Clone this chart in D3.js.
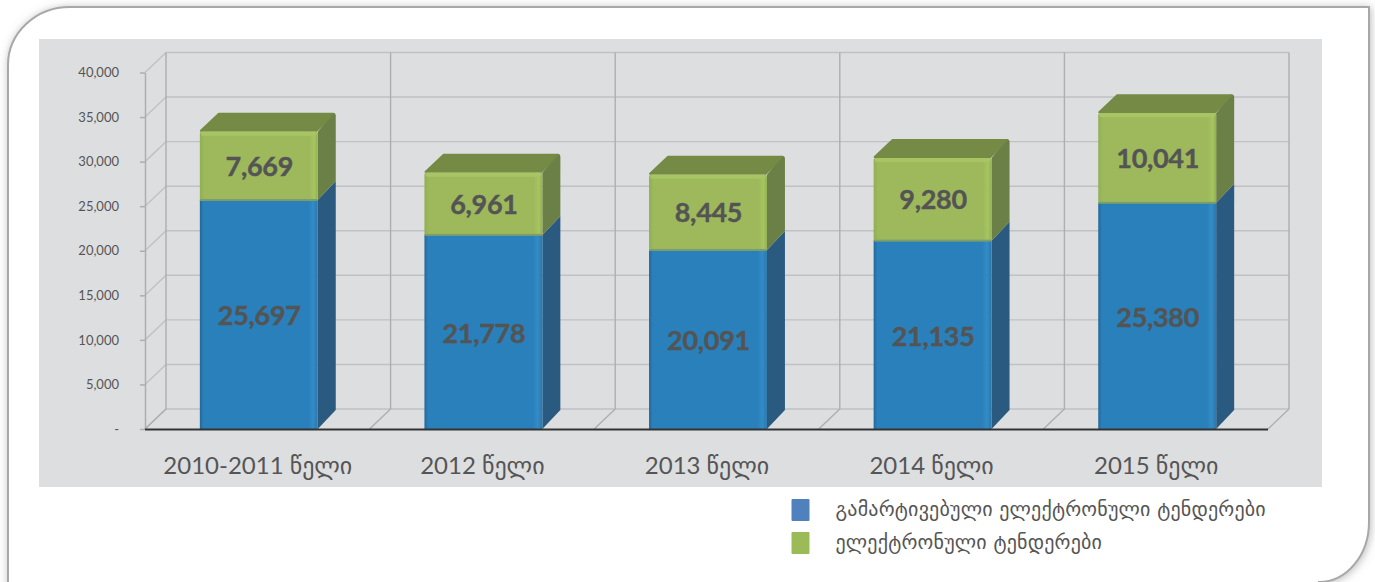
<!DOCTYPE html>
<html>
<head>
<meta charset="utf-8">
<script src="https://cdn.jsdelivr.net/npm/d3@7"></script>
<style>
  html, body { margin: 0; padding: 0; background: #fff; overflow: hidden; }
</style>
</head>
<body>
<div id="chart"></div>
<script>
var categories = ["2010-2011 წელი", "2012 წელი", "2013 წელი", "2014 წელი", "2015 წელი"];
var simplified = [25697, 21778, 20091, 21135, 25380];
var electronic = [7669, 6961, 8445, 9280, 10041];
var valueTicks = [0, 5000, 10000, 15000, 20000, 25000, 30000, 35000, 40000];
var legendLabels = ["გამარტივებული ელექტრონული ტენდერები", "ელექტრონული ტენდერები"];

var w = 1375;
var h = 582;
var wallX = 21, wallY = -20; // offset from front plane to back wall
var barX = 18, barY = -19;   // depth of the boxes
var barShift = 1.5;          // boxes sit a bit right of band centre
var latin = "Lato, 'Open Sans', sans-serif";
var georgian = "'DejaVu Sans', sans-serif";

var svg = d3.select("#chart").append("svg")
  .attr("width", w)
  .attr("height", h)
  .style("display", "block");

var defs = svg.append("defs");

var shadow = defs.append("filter").attr("id", "cardShadow")
  .attr("x", "-5%").attr("y", "-5%").attr("width", "110%").attr("height", "110%");
shadow.append("feDropShadow")
  .attr("dx", 1).attr("dy", 1).attr("stdDeviation", 4)
  .attr("flood-color", "#777").attr("flood-opacity", 0.5);

function sideGradient(id, stops) {
  var g = defs.append("linearGradient").attr("id", id)
    .attr("x1", "0").attr("x2", "1").attr("y1", "0").attr("y2", "0");
  stops.forEach(function(s) {
    g.append("stop").attr("offset", s[0]).attr("stop-color", s[1]);
  });
}
sideGradient("blueFront", [[0, "#23679a"], [0.03, "#2980bb"], [0.92, "#2980bb"], [0.96, "#338cc6"], [1, "#2a78ad"]]);
sideGradient("greenFront", [[0, "#8fb052"], [0.04, "#9eb95c"], [0.93, "#9eb95c"], [0.97, "#a6c560"], [1, "#93b052"]]);

// card behind everything, bottom edge falls off the page
svg.append("path")
  .attr("d", "M8,600 V65 A62,58 0 0 1 70,7 H1369 V522 A50,60 0 0 1 1319,582 V600 Z")
  .attr("fill", "#fff")
  .attr("stroke", "#a8a8a8")
  .attr("stroke-width", 2)
  .attr("filter", "url(#cardShadow)");

svg.append("rect")
  .attr("x", 39).attr("y", 39)
  .attr("width", 1283).attr("height", 448)
  .attr("fill", "#dddee0");

var xScale = d3.scaleBand()
  .domain(categories)
  .range([145, 1268])
  .paddingInner(0.475)
  .paddingOuter(0.2375);

var yScale = d3.scaleLinear()
  .domain([0, 40000])
  .range([429, 72.5]);

var step = xScale.step();
var x0 = xScale.range()[0];
var x1 = xScale.range()[1];

// back wall grid
var grid = svg.append("g")
  .attr("fill", "none")
  .attr("stroke", "#c0c1c3")
  .attr("stroke-width", 1.4);

grid.selectAll(".hgrid")
  .data(valueTicks)
  .enter()
  .append("path")
  .attr("class", "hgrid")
  .attr("d", function(d) {
    var y = yScale(d);
    return "M" + x0 + "," + y + "L" + (x0 + wallX) + "," + (y + wallY) + "H" + (x1 + wallX);
  });

grid.selectAll(".vgrid")
  .data(d3.range(categories.length + 1))
  .enter()
  .append("path")
  .attr("class", "vgrid")
  .attr("stroke", "#adaeb0")
  .attr("d", function(i) {
    var x = x0 + i * step;
    return "M" + x + "," + yScale(0) + "L" + (x + wallX) + "," + (yScale(0) + wallY) + "V" + (yScale(40000) + wallY);
  });

// value axis
var yAxis = d3.axisLeft(yScale)
  .tickValues(valueTicks)
  .tickSize(5)
  .tickSizeOuter(0)
  .tickPadding(21)
  .tickFormat(function(d) { return d === 0 ? "-" : d3.format(",")(d); });

var yAxisG = svg.append("g")
  .attr("transform", "translate(" + x0 + ",0)")
  .call(yAxis);
yAxisG.selectAll("path, line").attr("stroke", "#adaeb0").attr("stroke-width", 1.5);
yAxisG.selectAll("text")
  .attr("fill", "#555")
  .style("font-family", latin)
  .style("font-size", "13px");

// stacked boxes
var rows = categories.map(function(c, i) {
  return { category: c, blue: simplified[i], green: electronic[i] };
});

var bars = svg.selectAll(".bar")
  .data(rows)
  .enter()
  .append("g")
  .attr("class", "bar")
  .attr("transform", function(d) { return "translate(" + (xScale(d.category) + barShift) + ",0)"; });

var bw = xScale.bandwidth();

// right side faces
bars.append("path")
  .attr("fill", "#2b5a80")
  .attr("d", function(d) {
    return "M" + bw + "," + yScale(0) + "V" + yScale(d.blue) +
      "l" + barX + "," + barY + "V" + (yScale(0) + barY) + "Z";
  });

bars.append("path")
  .attr("fill", "#6b8046")
  .attr("d", function(d) {
    var top = yScale(d.blue + d.green), mid = yScale(d.blue);
    return "M" + bw + "," + mid + "V" + top +
      "L" + (bw + barX - 3) + "," + (top + barY) +
      "Q" + (bw + barX) + "," + (top + barY) + " " + (bw + barX) + "," + (top + barY + 3) +
      "V" + (mid + barY) + "Z";
  });

// top face
bars.append("path")
  .attr("fill", "#748a45")
  .attr("stroke", "#748a45")
  .attr("stroke-width", 2)
  .attr("stroke-linejoin", "round")
  .attr("d", function(d) {
    var top = yScale(d.blue + d.green);
    return "M1," + (top - 1) + "L" + (barX + 1) + "," + (top + barY + 1) + "H" + (bw + barX - 3) +
      "L" + (bw - 1) + "," + (top - 1) + "Z";
  });

// front faces
bars.append("rect")
  .attr("x", 0)
  .attr("y", function(d) { return yScale(d.blue); })
  .attr("width", bw)
  .attr("height", function(d) { return yScale(0) - yScale(d.blue); })
  .attr("fill", "url(#blueFront)");

bars.append("rect")
  .attr("x", 0)
  .attr("y", function(d) { return yScale(d.blue + d.green); })
  .attr("width", bw)
  .attr("height", function(d) { return yScale(d.blue) - yScale(d.blue + d.green); })
  .attr("rx", 2)
  .attr("fill", "url(#greenFront)");

// seam along the bottom of the green block
bars.append("rect")
  .attr("x", 0)
  .attr("y", function(d) { return yScale(d.blue) - 1; })
  .attr("width", bw)
  .attr("height", 2)
  .attr("fill", "#7d9e6a");

// light rim along the top of the green block
bars.append("rect")
  .attr("x", 1)
  .attr("y", function(d) { return yScale(d.blue + d.green); })
  .attr("width", bw - 2)
  .attr("height", 4)
  .attr("rx", 2)
  .attr("fill", "#a8c563");

// value labels
function valueLabel(yOf, valueOf) {
  bars.append("text")
    .attr("x", bw / 2 + 0.5)
    .attr("y", yOf)
    .attr("text-anchor", "middle")
    .attr("fill", "#545454")
    .attr("stroke", "#545454")
    .attr("stroke-width", 0.4)
    .style("font-family", latin)
    .style("font-weight", "700")
    .style("font-size", "27px")
    .style("letter-spacing", "-0.3px")
    .text(valueOf);
}
valueLabel(function(d) { return yScale(d.blue / 2) + 11; }, function(d) { return d3.format(",")(d.blue); });
valueLabel(function(d) { return yScale(d.blue + d.green / 2) + 10; }, function(d) { return d3.format(",")(d.green); });

// baseline on top of the bars
svg.append("line")
  .attr("x1", x0).attr("x2", x1)
  .attr("y1", yScale(0) + 0.5).attr("y2", yScale(0) + 0.5)
  .attr("stroke", "#333")
  .attr("stroke-width", 2);

// category labels
svg.selectAll(".cat")
  .data(categories)
  .enter()
  .append("text")
  .attr("class", "cat")
  .attr("x", function(d) { return xScale(d) + bw / 2 + 0.5; })
  .attr("y", 474)
  .attr("text-anchor", "middle")
  .attr("fill", "#555")
  .style("font-family", latin + ", " + georgian)
  .style("font-size", "24px")
  .text(function(d) { return d; });

// legend
var legendColors = ["#4f81bd", "#9bbb59"];
var legend = svg.selectAll(".legend-item")
  .data(legendLabels)
  .enter()
  .append("g")
  .attr("class", "legend-item")
  .attr("transform", function(d, i) { return "translate(791.5," + (499 + i * 33) + ")"; });

legend.append("rect")
  .attr("width", 18)
  .attr("height", 22)
  .attr("rx", 1)
  .attr("fill", function(d, i) { return legendColors[i]; });

legend.append("text")
  .attr("x", 44)
  .attr("y", 17)
  .attr("fill", "#555")
  .style("font-family", georgian)
  .style("font-size", "20px")
  .style("letter-spacing", "0.2px")
  .text(function(d) { return d; });
</script>
</body>
</html>
